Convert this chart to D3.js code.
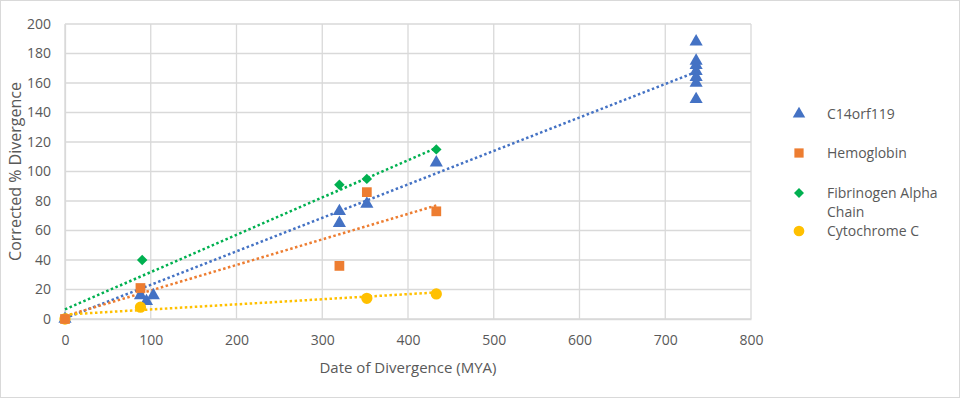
<!DOCTYPE html>
<html><head><meta charset="utf-8">
<script src="https://cdn.jsdelivr.net/npm/d3@7"></script>
<style>body{margin:0;background:#fff}svg{display:block}text{font-family:"Open Sans","Noto Sans",sans-serif;fill:#595959}</style>
</head><body><svg id="c" width="960" height="399"></svg>
<script>
const seriesNames = ["C14orf119","Hemoglobin","Fibrinogen Alpha Chain","Cytochrome C"];
const seriesColors = ["#4472C4","#ED7D31","#00B050","#FFC000"];
const seriesShapes = ["triangle","square","diamond","circle"];
const c14X = [0,88,95,103,320,320,352,433,736,736,736,736,736,736,736];
const c14Y = [0,16,12,16,73,65,78,106,188,175,172,168,164,160,149];
const hemoX = [0,88,320,352,433];
const hemoY = [0,21,36,86,73];
const fibX = [0,90,320,352,433];
const fibY = [0,40,91,95,115];
const cytoX = [0,88,352,433];
const cytoY = [0,8,14,17];
// trendline end values (y at first and last x of each series)
const trendStart = [0.5,2,6.5,3];
const trendEnd = [167.5,77,116,18];
const xTicks = [0,100,200,300,400,500,600,700,800];
const yTicks = [0,20,40,60,80,100,120,140,160,180,200];
const xTitle = "Date of Divergence (MYA)";
const yTitle = "Corrected % Divergence";

const series = [[c14X,c14Y],[hemoX,hemoY],[fibX,fibY],[cytoX,cytoY]].map((s,i)=>({
  name:seriesNames[i], color:seriesColors[i], shape:seriesShapes[i],
  pts:s[0].map((x,j)=>({x, y:s[1][j]})), t0:trendStart[i], t1:trendEnd[i]
}));

const svg = d3.select("#c");
svg.append("rect").attr("x",0.5).attr("y",0.5).attr("width",959).attr("height",397)
  .attr("fill","#fff").attr("stroke","#d9d9d9");

const L=65,R=751,T=24,B=319;
const x = d3.scaleLinear().domain([0,800]).range([L,R]);
const y = d3.scaleLinear().domain([0,200]).range([B,T]);

const g = svg.append("g");
g.selectAll(".vg").data(xTicks).join("line").attr("x1",d=>x(d)).attr("x2",d=>x(d))
  .attr("y1",T).attr("y2",B).attr("stroke","#d9d9d9").attr("stroke-width",1.3);
g.selectAll(".hg").data(yTicks).join("line").attr("y1",d=>y(d)).attr("y2",d=>y(d))
  .attr("x1",L).attr("x2",R).attr("stroke","#d9d9d9").attr("stroke-width",1.3);

const xAxis = svg.append("g").attr("transform",`translate(0,${B})`)
  .call(d3.axisBottom(x).tickValues(xTicks).tickSize(0).tickPadding(16));
const yAxis = svg.append("g").attr("transform",`translate(${L},0)`)
  .call(d3.axisLeft(y).tickValues(yTicks).tickSize(0).tickPadding(14));
[xAxis,yAxis].forEach(a=>{a.select(".domain").attr("stroke","#d9d9d9").attr("stroke-width",1.3);
  a.selectAll("text").style("font-size","14px").attr("fill","#595959");});

svg.append("text").attr("x",(L+R)/2).attr("y",373).attr("text-anchor","middle")
  .style("font-size","15px").text(xTitle);
svg.append("text").attr("transform",`translate(21,${(T+B)/2}) rotate(-90)`).attr("text-anchor","middle")
  .style("font-size","16px").text(yTitle);

series.forEach(s=>{
  const [x0,x1]=d3.extent(s.pts,d=>d.x);
  svg.append("line").attr("x1",x(x0)).attr("y1",y(s.t0)).attr("x2",x(x1)).attr("y2",y(s.t1))
    .attr("stroke",s.color).attr("stroke-width",2.5).attr("stroke-dasharray","2.5 2.5");
});

const sym = {triangle:d3.symbolTriangle, square:d3.symbolSquare, diamond:d3.symbolSquare, circle:d3.symbolCircle};
const size = {triangle:75, square:95, diamond:55, circle:100};
const rot = {triangle:0, square:0, diamond:45, circle:0};
const order=[0,2,3,1];
order.forEach(i=>{
  const s=series[i];
  svg.append("g").selectAll("path").data(s.pts).join("path")
    .attr("transform",d=>`translate(${x(d.x)},${y(d.y)}) rotate(${rot[s.shape]})`)
    .attr("d",d3.symbol().type(sym[s.shape]).size(size[s.shape]))
    .attr("fill",s.color);
});

const leg = svg.append("g");
const legY=[114,153,193,231];
series.forEach((s,i)=>{
  leg.append("path").attr("transform",`translate(799,${legY[i]}) rotate(${rot[s.shape]})`)
    .attr("d",d3.symbol().type(sym[s.shape]).size(size[s.shape]*0.9)).attr("fill",s.color);
  const words = s.name==="Fibrinogen Alpha Chain" ? ["Fibrinogen Alpha","Chain"] : [s.name];
  words.forEach((w,k)=>leg.append("text").attr("x",827).attr("y",legY[i]+5+k*19)
    .style("font-size","14px").text(w));
});
</script></body></html>
